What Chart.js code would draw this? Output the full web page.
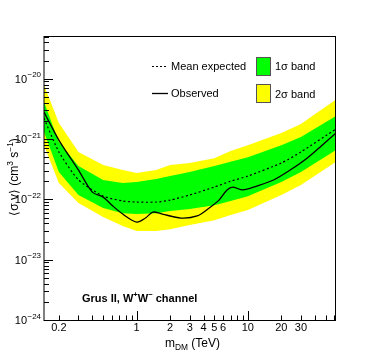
<!DOCTYPE html>
<html>
<head>
<meta charset="utf-8">
<script src="https://cdn.jsdelivr.net/npm/chart.js@4.4.1/dist/chart.umd.min.js"></script>
<style>
  body { margin: 0; background: #fff; }
  canvas { display: block; }
</style>
</head>
<body>
<canvas id="grafico" width="374" height="356"></canvas>
<script>
// masas (TeV) para la banda esperada
const mass = [0.147, 0.2, 0.3, 0.5, 0.75, 1, 1.5, 2, 3, 5, 7, 10, 20, 30, 62];
const expected   = [2.2e-21, 6.1e-22, 2.1e-22, 1.13e-22, 9.4e-23, 9.0e-23, 9.0e-23, 9.7e-23, 1.18e-22, 1.6e-22, 2.0e-22, 2.43e-22, 4.0e-22, 6.1e-22, 1.47e-21];
const sigma1Up   = [4.1e-21, 8.9e-22, 3.56e-22, 2.09e-22, 1.86e-22, 1.94e-22, 2.17e-22, 2.43e-22, 2.84e-22, 3.56e-22, 4.2e-22, 5.0e-22, 7.9e-22, 1.08e-21, 2.4e-21];
const sigma1Down = [1.31e-21, 2.84e-22, 1.18e-22, 7.2e-23, 5.9e-23, 5.7e-23, 5.9e-23, 6.4e-23, 6.9e-23, 8.0e-23, 9.4e-23, 1.13e-22, 1.94e-22, 2.84e-22, 6.6e-22];
const sigma2Up   = [7.9e-21, 1.84e-21, 6.1e-22, 3.7e-22, 3.06e-22, 2.73e-22, 3.06e-22, 3.7e-22, 4.0e-22, 4.8e-22, 6.3e-22, 7.9e-22, 1.26e-21, 1.77e-21, 4.5e-21];
const sigma2Down = [7.9e-22, 1.86e-22, 8.7e-23, 5.1e-23, 3.6e-23, 3.0e-23, 3.0e-23, 3.2e-23, 3.75e-23, 4.5e-23, 5.5e-23, 6.65e-23, 1.18e-22, 1.73e-22, 4.2e-22];

// curva observada
const obsMass  = [0.147, 0.2, 0.3, 0.4, 0.5, 0.6, 0.75, 1, 1.2, 1.4, 1.7, 2.5, 3.5, 4.5, 5.5, 6.5, 7.3, 9, 12, 17, 24, 34, 62];
const observed = [2.8e-21, 9.6e-22, 3.06e-22, 1.32e-22, 1.09e-22, 8.0e-23, 5.7e-23, 4.2e-23, 4.9e-23, 6.15e-23, 5.7e-23, 4.9e-23, 5.3e-23, 7.2e-23, 9.7e-23, 1.43e-22, 1.6e-22, 1.43e-22, 1.66e-22, 2.09e-22, 3.06e-22, 4.8e-22, 1.26e-21];

// etiquetas de ejes
const xLabelTicks = [0.2, 1, 2, 3, 4, 5, 6, 10, 20, 30];
const yDecades = [-24, -23, -22, -21, -20];
const xMin = 0.147, xMax = 62, yMin = 1e-24, yMax = 5.1e-20;

const FONT = '"Liberation Sans", Arial, sans-serif';

function pts(xs, ys) {
    return xs.map((x, i) => ({ x: x, y: ys[i] }));
}

function logTicks(min, max) {
    const out = [];
    for (let e = Math.floor(Math.log10(min)); e <= Math.ceil(Math.log10(max)); e++) {
        for (let k = 1; k < 10; k++) {
            const v = k * Math.pow(10, e);
            if (v >= min * 0.999 && v <= max * 1.001) out.push({ value: v, major: k === 1 });
        }
    }
    return out;
}

// texto con super/subindices
function richText(ctx, parts, x, y, size, bold, align) {
    const w = [];
    let total = 0;
    parts.forEach(p => {
        const s = p.mode ? size * 0.7 : size;
        ctx.font = (bold ? 'bold ' : '') + s + 'px ' + FONT;
        const m = ctx.measureText(p.t).width;
        w.push(m);
        total += m;
    });
    let cx = align === 'center' ? x - total / 2 : (align === 'right' ? x - total : x);
    ctx.textAlign = 'left';
    ctx.textBaseline = 'alphabetic';
    parts.forEach((p, i) => {
        const s = p.mode ? size * 0.7 : size;
        ctx.font = (bold ? 'bold ' : '') + s + 'px ' + FONT;
        let dy = 0;
        if (p.mode === 'sup') dy = -size * 0.42;
        if (p.mode === 'sub') dy = size * 0.28;
        ctx.fillText(p.t, cx, y + dy);
        cx += w[i];
    });
}

const decoracion = {
    id: 'decoracion',
    afterDraw(chart) {
        const ctx = chart.ctx;
        const a = chart.chartArea;
        const xs = chart.scales.x, ys = chart.scales.y;
        ctx.save();
        ctx.fillStyle = '#000';
        ctx.strokeStyle = '#000';
        ctx.lineWidth = 1;

        // marco
        ctx.strokeRect(a.left, a.top + 0.5, a.right - a.left - 0.5, a.bottom - a.top);

        // marcas eje x (hacia dentro)
        ctx.beginPath();
        xs.ticks.forEach(t => {
            const px = Math.round(xs.getPixelForValue(t.value)) + 0.5;
            const len = t.major ? 9 : 4.5;
            ctx.moveTo(px, a.bottom);
            ctx.lineTo(px, a.bottom - len);
        });
        // marcas eje y
        ys.ticks.forEach(t => {
            const py = Math.round(ys.getPixelForValue(t.value)) + 0.5;
            const len = t.major ? 9 : 5;
            ctx.moveTo(a.left, py);
            ctx.lineTo(a.left + len, py);
        });
        ctx.stroke();

        // etiquetas eje x
        ctx.font = '11px ' + FONT;
        ctx.textAlign = 'center';
        ctx.textBaseline = 'alphabetic';
        xLabelTicks.forEach(v => {
            ctx.fillText(String(v), xs.getPixelForValue(v), a.bottom + 11);
        });

        // etiquetas eje y
        yDecades.forEach(d => {
            const py = ys.getPixelForValue(Math.pow(10, d));
            ctx.font = '11px ' + FONT;
            ctx.textAlign = 'right';
            ctx.fillText('10', 27, py + 4);
            ctx.font = '8px ' + FONT;
            ctx.textAlign = 'left';
            ctx.fillText('\u2212' + Math.abs(d), 27.5, py - 1.5);
        });

        // titulo eje x
        richText(ctx, [{ t: 'm' }, { t: 'DM', mode: 'sub' }, { t: ' (TeV)' }], 165, 347, 12, false, 'left');

        // titulo eje y
        ctx.save();
        ctx.translate(18, 177);
        ctx.rotate(-Math.PI / 2);
        richText(ctx, [{ t: '\u27E8\u03C3 v\u27E9 (cm' }, { t: '3', mode: 'sup' }, { t: ' s' }, { t: '\u22121', mode: 'sup' }, { t: ')' }], 0, 0, 12, false, 'center');
        ctx.restore();

        // leyenda
        ctx.lineWidth = 1;
        ctx.setLineDash([2, 2]);
        ctx.beginPath();
        ctx.moveTo(152, 66.5); ctx.lineTo(168, 66.5);
        ctx.stroke();
        ctx.setLineDash([]);
        ctx.lineWidth = 1.3;
        ctx.beginPath();
        ctx.moveTo(152, 93.5); ctx.lineTo(168, 93.5);
        ctx.stroke();
        ctx.font = '11px ' + FONT;
        ctx.textAlign = 'left';
        ctx.fillText('Mean expected', 171, 70);
        ctx.fillText('Observed', 171, 97);
        ctx.lineWidth = 1;
        ctx.strokeStyle = '#555';
        ctx.fillStyle = '#00ff00';
        ctx.fillRect(256.5, 57.5, 14, 18);
        ctx.strokeRect(256.5, 57.5, 14, 18);
        ctx.fillStyle = '#ffff00';
        ctx.fillRect(256.5, 84.5, 14, 18);
        ctx.strokeRect(256.5, 84.5, 14, 18);
        ctx.fillStyle = '#000';
        ctx.fillText('1\u03C3 band', 275, 70);
        ctx.fillText('2\u03C3 band', 275, 98);

        // etiqueta del canal
        richText(ctx, [{ t: 'Grus II, W' }, { t: '+', mode: 'sup' }, { t: 'W' }, { t: '\u2212', mode: 'sup' }, { t: ' channel' }], 82, 302, 11, true, 'left');

        ctx.restore();
    }
};

function crearGrafico() {
    const ctx = document.getElementById('grafico').getContext('2d');
    new Chart(ctx, {
        type: 'line',
        data: {
            datasets: [
                { label: 'Observed', data: pts(obsMass, observed), borderColor: '#000', borderWidth: 1.3, tension: 0.3, fill: false },
                { label: 'Mean expected', data: pts(mass, expected), borderColor: '#000', borderWidth: 1.2, borderDash: [2, 2.5], tension: 0.2, fill: false },
                { label: '1sigma up', data: pts(mass, sigma1Up), borderWidth: 0, borderColor: 'rgba(0,0,0,0)', backgroundColor: '#00ff00', fill: '+1' },
                { label: '1sigma down', data: pts(mass, sigma1Down), borderWidth: 0, borderColor: 'rgba(0,0,0,0)', fill: false },
                { label: '2sigma up', data: pts(mass, sigma2Up), borderWidth: 0, borderColor: 'rgba(0,0,0,0)', backgroundColor: '#ffff00', fill: '+1' },
                { label: '2sigma down', data: pts(mass, sigma2Down), borderWidth: 0, borderColor: 'rgba(0,0,0,0)', fill: false }
            ]
        },
        options: {
            responsive: false,
            animation: false,
            devicePixelRatio: 1,
            layout: { padding: { top: 36, right: 38, left: 0, bottom: 0 } },
            elements: { point: { radius: 0 } },
            plugins: { legend: { display: false }, tooltip: { enabled: false } },
            scales: {
                x: {
                    type: 'logarithmic', min: xMin, max: xMax,
                    grid: { display: false }, border: { display: false },
                    ticks: { display: false },
                    afterBuildTicks: s => { s.ticks = logTicks(xMin, xMax); },
                    afterFit: s => { s.height = 36; }
                },
                y: {
                    type: 'logarithmic', min: yMin, max: yMax,
                    grid: { display: false }, border: { display: false },
                    ticks: { display: false },
                    afterBuildTicks: s => { s.ticks = logTicks(yMin, yMax); },
                    afterFit: s => { s.width = 44; }
                }
            }
        },
        plugins: [decoracion]
    });
}

document.addEventListener('DOMContentLoaded', function() {
    crearGrafico();
});
</script>
</body>
</html>
